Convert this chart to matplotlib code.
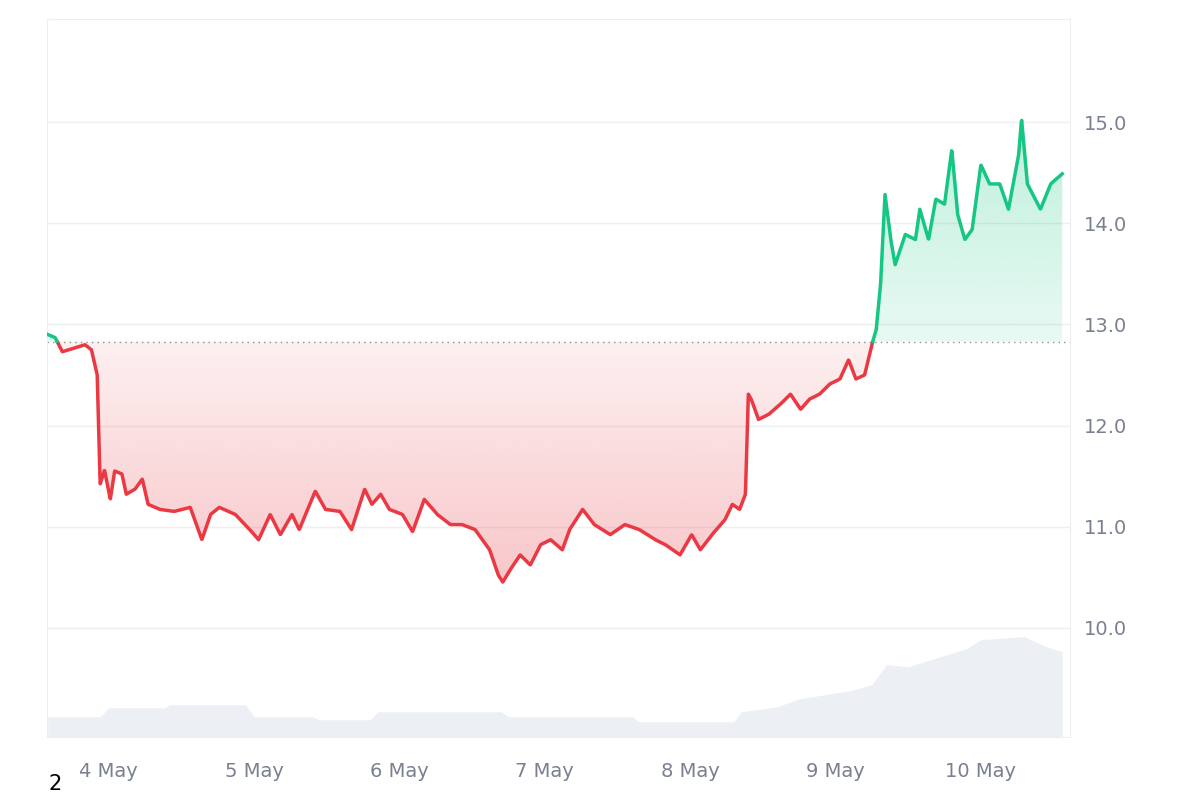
import numpy as np
import matplotlib
matplotlib.use("Agg")
import matplotlib.pyplot as plt
import matplotlib.dates as mdates
import matplotlib.colors as mc
from matplotlib.path import Path
import datetime as dt

start = dt.datetime(2024, 5, 4)
days = [-0.42,-0.37,-0.32,-0.23,-0.165,-0.12,-0.08,-0.06,-0.03,0.01,0.04,0.09,0.12,0.18,0.23,0.27,0.35,0.45,0.56,0.64,0.70,0.76,0.87,0.97,1.03,1.11,1.18,1.26,1.31,1.42,1.49,1.59,1.67,1.76,1.81,1.87,1.93,2.02,2.09,2.17,2.26,2.35,2.43,2.52,2.62,2.68,2.71,2.76,2.83,2.90,2.97,3.04,3.12,3.17,3.26,3.34,3.45,3.55,3.65,3.76,3.83,3.93,4.01,4.07,4.15,4.24,4.29,4.34,4.38,4.40,4.42,4.47,4.54,4.62,4.69,4.76,4.82,4.89,4.96,5.03,5.09,5.14,5.20,5.25,5.28,5.31,5.34,5.38,5.41,5.48,5.55,5.58,5.64,5.69,5.75,5.80,5.84,5.89,5.94,6.0,6.06,6.13,6.19,6.26,6.28,6.32,6.41,6.48,6.56]
price = [12.90,12.87,12.73,12.77,12.80,12.75,12.50,11.42,11.56,11.27,11.55,11.52,11.32,11.37,11.47,11.22,11.17,11.15,11.19,10.87,11.12,11.19,11.12,10.97,10.87,11.12,10.92,11.12,10.97,11.35,11.17,11.15,10.97,11.37,11.22,11.32,11.17,11.12,10.95,11.27,11.12,11.02,11.02,10.97,10.77,10.52,10.45,10.57,10.72,10.62,10.82,10.87,10.77,10.97,11.17,11.02,10.92,11.02,10.97,10.87,10.82,10.72,10.92,10.77,10.92,11.07,11.22,11.17,11.32,12.31,12.26,12.06,12.11,12.21,12.31,12.16,12.26,12.31,12.41,12.46,12.65,12.46,12.50,12.80,12.95,13.40,14.29,13.84,13.59,13.89,13.84,14.14,13.84,14.24,14.19,14.73,14.09,13.84,13.94,14.58,14.39,14.39,14.14,14.68,15.03,14.39,14.14,14.39,14.49]
baseline = 12.83
vol_days = [-0.42,-0.06,0.0,0.38,0.42,0.94,1.0,1.4,1.45,1.8,1.85,2.7,2.75,3.6,3.65,4.3,4.35,4.6,4.75,5.1,5.25,5.35,5.5,5.9,6.0,6.3,6.45,6.56]
volume = [20,20,29,29,32,32,20,20,17,17,25,25,20,20,15,15,25,30,38,46,52,72,70,88,97,100,90,85]

t = [start + dt.timedelta(days=d) for d in days]
tn = mdates.date2num(t)
vt = mdates.date2num([start + dt.timedelta(days=d) for d in vol_days])

fig = plt.figure(figsize=(12, 8), dpi=100)
ax = fig.add_axes([0.039, 0.079, 0.853, 0.897])
ax2 = ax.twinx()
ax2.set_zorder(0); ax.set_zorder(1); ax.patch.set_visible(False)
ax2.fill_between(vt, 0, volume, color="#eceff3", lw=0)
ax2.set_ylim(0, 717)
ax2.set_yticks([])
for s in ax2.spines.values():
    s.set_visible(False)

x0 = mdates.date2num(start - dt.timedelta(days=0.427))
x1 = mdates.date2num(start + dt.timedelta(days=6.616))

tf = np.linspace(tn[0], tn[-1], 3000)
pf = np.interp(tf, tn, price)
for cond, lo, hi, col, rev in [(pf <= baseline, 10.4, baseline, "#e8404a", True),
                               (pf >= baseline, baseline, 15.1, "#16c784", False)]:
    poly = ax.fill_between(tf, pf, baseline, where=cond, color="none", lw=0, interpolate=True)
    g = np.linspace(0, 1, 256).reshape(-1, 1)
    alpha = 0.08 + 0.22 * (1 - g) if rev else 0.10 + 0.18 * g
    rgba = np.zeros((256, 1, 4)); rgba[..., :3] = mc.to_rgb(col); rgba[..., 3] = alpha
    im = ax.imshow(rgba, extent=[tn[0], tn[-1], lo, hi], origin="lower", aspect="auto", zorder=1)
    paths = poly.get_paths()
    if paths:
        im.set_clip_path(Path.make_compound_path(*paths), transform=ax.transData)
ax.set_xlim(x0, x1); ax.set_ylim(8.92, 16.02)

pts_r = np.ma.masked_where(pf > baseline + 0.001, pf)
pts_g = np.ma.masked_where(pf < baseline - 0.001, pf)
ax.plot(tf, pts_r, color="#ea3943", lw=2.5, zorder=3, solid_joinstyle="round")
ax.plot(tf, pts_g, color="#16c784", lw=2.5, zorder=3, solid_joinstyle="round")
ax.axhline(baseline, color="#8a8f99", lw=1, ls=(0, (1, 3)), zorder=2)

ax.yaxis.tick_right()
ax.set_yticks([10, 11, 12, 13, 14, 15])
ax.set_yticklabels(["10.0", "11.0", "12.0", "13.0", "14.0", "15.0"])
ax.grid(axis="y", color="#eeeff1", lw=1)
ax.set_axisbelow(True)
ax.xaxis.set_major_locator(mdates.DayLocator())
ax.xaxis.set_major_formatter(mdates.DateFormatter("%-d May"))
ax.tick_params(axis="y", length=0, labelsize=14, colors="#7a8090", pad=10)
ax.tick_params(axis="x", length=0, labelsize=14, colors="#7a8090", pad=18)
for s in ax.spines.values():
    s.set_color("#eceef1")
fig.text(0.04, 0.0125, "2", fontsize=15, color="black")
fig.savefig("out.png")
